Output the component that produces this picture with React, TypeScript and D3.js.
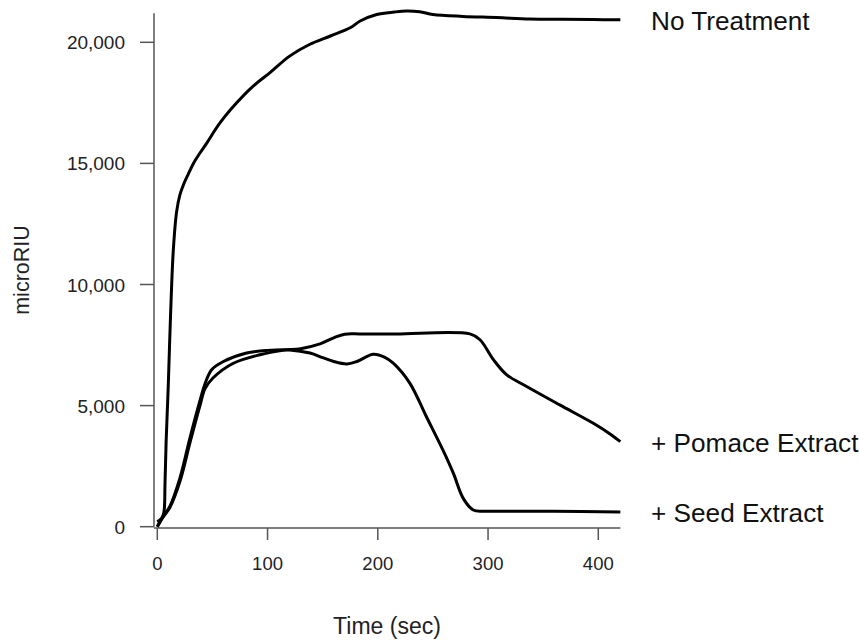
import React from "react";
import * as d3 from "d3";

const xTicks = [0, 100, 200, 300, 400];
const yTicks = [0, 5000, 10000, 15000, 20000];

const noTreatmentT = [0, 4, 6, 7, 8, 10, 12, 14.5, 17.5, 20.5, 24, 28, 33, 39, 45, 57, 72, 87, 102, 120, 138, 157, 175, 184, 199, 215, 226, 238, 250, 277, 308, 338, 368, 395, 420];
const noTreatmentV = [200, 350, 600, 1800, 3500, 5900, 8700, 11400, 13000, 13700, 14150, 14550, 15020, 15450, 15850, 16680, 17500, 18190, 18740, 19430, 19910, 20260, 20600, 20880, 21150, 21250, 21290, 21260, 21150, 21070, 21020, 20960, 20950, 20940, 20930];

const seedT = [0, 5, 11.5, 20.5, 29.7, 38.7, 43.3, 49.3, 60, 81, 100, 120, 138.5, 150, 160, 172, 181, 196, 206, 214, 229, 244, 259, 268.5, 277.5, 286.6, 295, 305, 359, 420];
const seedV = [0, 400, 850, 2000, 3680, 5200, 5900, 6480, 6820, 7170, 7280, 7300, 7170, 6980, 6820, 6720, 6820, 7120, 7000, 6750, 5930, 4550, 3170, 2210, 1170, 690, 640, 640, 640, 610];

const pomaceT = [0, 5, 11.5, 20.5, 29.7, 38.7, 43.3, 50.5, 69, 93, 114, 130, 147.6, 160, 170, 184, 217, 283.6, 292.7, 305, 317, 335, 365, 395.5, 410, 420];
const pomaceV = [0, 380, 800, 1860, 3480, 5000, 5700, 6140, 6750, 7100, 7280, 7350, 7550, 7800, 7950, 7960, 7960, 7960, 7720, 6890, 6270, 5790, 5030, 4270, 3850, 3510];

const seriesLabels = ["No Treatment", "+ Pomace Extract", "+ Seed Extract"];

const FONT = "'Liberation Sans', Arial, sans-serif";

export default function App() {
  const x = d3.scaleLinear().domain([0, 400]).range([157.3, 598.3]);
  const y = d3.scaleLinear().domain([0, 20000]).range([526.7, 42.3]);
  const xMin = -3;
  const xMax = 420;
  const yTop = 21200;

  const line = d3
    .line<[number, number]>()
    .x((d) => x(d[0]))
    .y((d) => y(d[1]))
    .curve(d3.curveCatmullRom.alpha(0.5));

  const zip = (t: number[], v: number[]) => t.map((tt, i) => [tt, v[i]] as [number, number]);

  const series = [
    { label: seriesLabels[0], d: zip(noTreatmentT, noTreatmentV), ly: 30 },
    { label: seriesLabels[1], d: zip(pomaceT, pomaceV), ly: 452 },
    { label: seriesLabels[2], d: zip(seedT, seedV), ly: 522 },
  ];

  const axisColor = "#555";
  const xAxisY = y(0) + 1.3;

  return (
    <svg
      width={859}
      height={640}
      style={{ position: "absolute", left: 0, top: 0, background: "#fff" }}
      fontFamily={FONT}
    >
      <rect x={0} y={0} width={859} height={640} fill="#fff" />
      {/* y axis */}
      <line x1={x(xMin)} x2={x(xMin)} y1={y(yTop)} y2={y(0)} stroke={axisColor} strokeWidth={1.5} />
      {yTicks.map((t) => (
        <g key={t}>
          <line x1={x(xMin) - 14} x2={x(xMin)} y1={y(t)} y2={y(t)} stroke={axisColor} strokeWidth={1.5} />
          <text x={125} y={y(t) + 7} textAnchor="end" fontSize={19} fill="#222">
            {d3.format(",")(t)}
          </text>
        </g>
      ))}
      {/* x axis */}
      <line x1={x(xMin)} x2={x(xMax)} y1={xAxisY} y2={xAxisY} stroke={axisColor} strokeWidth={1.5} />
      {xTicks.map((t) => (
        <g key={t}>
          <line x1={x(t)} x2={x(t)} y1={xAxisY} y2={xAxisY + 12} stroke={axisColor} strokeWidth={1.5} />
          <text x={x(t)} y={570} textAnchor="middle" fontSize={18.5} fill="#222">
            {t}
          </text>
        </g>
      ))}
      <text x={387} y={634} textAnchor="middle" fontSize={23} fill="#222">
        Time (sec)
      </text>
      <text
        transform={`translate(29,270) rotate(-90)`}
        textAnchor="middle"
        fontSize={21.5}
        fill="#222"
      >
        microRIU
      </text>
      {series.map((s) => (
        <g key={s.label}>
          <path d={line(s.d) || ""} fill="none" stroke="#000" strokeWidth={3} strokeLinejoin="round" />
          <text x={651} y={s.ly} fontSize={26.2} fill="#111">
            {s.label}
          </text>
        </g>
      ))}
    </svg>
  );
}
